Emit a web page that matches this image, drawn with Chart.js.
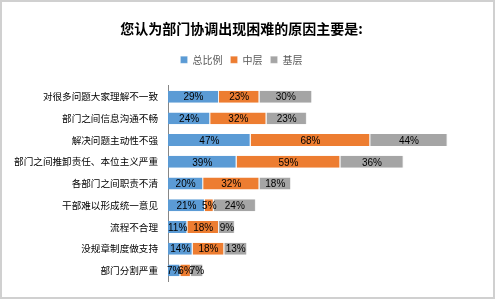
<!DOCTYPE html>
<html>
<head>
<meta charset="utf-8">
<script src="https://cdn.jsdelivr.net/npm/chart.js@4"></script>
<style>
  html, body { margin: 0; padding: 0; background: #fff; }
  #wrap { width: 491px; height: 295px; border: 2px solid #d0d0d0; position: relative; }
</style>
</head>
<body>
<div id="wrap"><canvas id="chart" width="491" height="295"></canvas></div>
<script>
const categories = [
  '对很多问题大家理解不一致',
  '部门之间信息沟通不畅',
  '解决问题主动性不强',
  '部门之间推卸责任、本位主义严重',
  '各部门之间职责不清',
  '干部难以形成统一意见',
  '流程不合理',
  '没规章制度做支持',
  '部门分割严重'
];
const seriesNames = ['总比例', '中层', '基层'];
const totalRatio = [29, 24, 47, 39, 20, 21, 11, 14, 7];
const middleLevel = [23, 32, 68, 59, 32, 5, 18, 18, 6];
const baseLevel = [30, 23, 44, 36, 18, 24, 9, 13, 7];
const colors = ['#5B9BD5', '#ED7D31', '#A5A5A5'];

const fontCn = '"Noto Sans CJK SC", "Noto Sans", sans-serif';

// draws the percentage inside each bar segment
const barLabels = {
  id: 'barLabels',
  afterDatasetsDraw(chart) {
    const ctx = chart.ctx;
    ctx.save();
    ctx.font = '10px "Liberation Sans", Arial, sans-serif';
    ctx.fillStyle = '#000';
    ctx.textAlign = 'center';
    ctx.textBaseline = 'middle';
    chart.data.datasets.forEach((ds, i) => {
      chart.getDatasetMeta(i).data.forEach((bar, j) => {
        const cx = (bar.x + bar.base) / 2;
        ctx.fillText(ds.data[j] + '%', cx, bar.y + 1);
      });
    });
    ctx.restore();
  }
};

// extra room under the legend
const legendGap = {
  id: 'legendGap',
  beforeInit(chart) {
    const fit = chart.legend.fit;
    chart.legend.fit = function () {
      fit.call(this);
      this.height += 11;
    };
  }
};

new Chart(document.getElementById('chart'), {
  type: 'bar',
  data: {
    labels: categories,
    datasets: [
      { label: seriesNames[0], data: totalRatio, backgroundColor: colors[0] },
      { label: seriesNames[1], data: middleLevel, backgroundColor: colors[1] },
      { label: seriesNames[2], data: baseLevel, backgroundColor: colors[2] }
    ]
  },
  options: {
    indexAxis: 'y',
    responsive: false,
    animation: false,
    layout: { padding: { left: 0, right: 12, top: 8, bottom: 15 } },
    datasets: {
      bar: {
        barPercentage: 0.55,
        categoryPercentage: 1,
        borderColor: '#f2f2f2',
        borderWidth: { right: 1 },
        borderSkipped: false
      }
    },
    plugins: {
      title: {
        display: true,
        text: '您认为部门协调出现困难的原因主要是:',
        color: '#000',
        font: { family: fontCn, size: 14, weight: 'bold' },
        padding: { top: 10, bottom: 10 }
      },
      legend: {
        position: 'top',
        labels: {
          boxWidth: 7,
          boxHeight: 7,
          padding: 8,
          color: '#595959',
          font: { family: fontCn, size: 10 }
        }
      },
      tooltip: { enabled: false }
    },
    scales: {
      x: {
        stacked: true,
        min: 0,
        max: 178,
        display: false
      },
      y: {
        stacked: true,
        afterFit: scale => { scale.width = 166; },
        grid: { display: false, drawTicks: false },
        border: { display: true, color: '#868686', width: 1 },
        ticks: {
          color: '#000',
          padding: 10,
          font: { family: fontCn, size: 9.6 }
        }
      }
    }
  },
  plugins: [barLabels, legendGap]
});
</script>
</body>
</html>
